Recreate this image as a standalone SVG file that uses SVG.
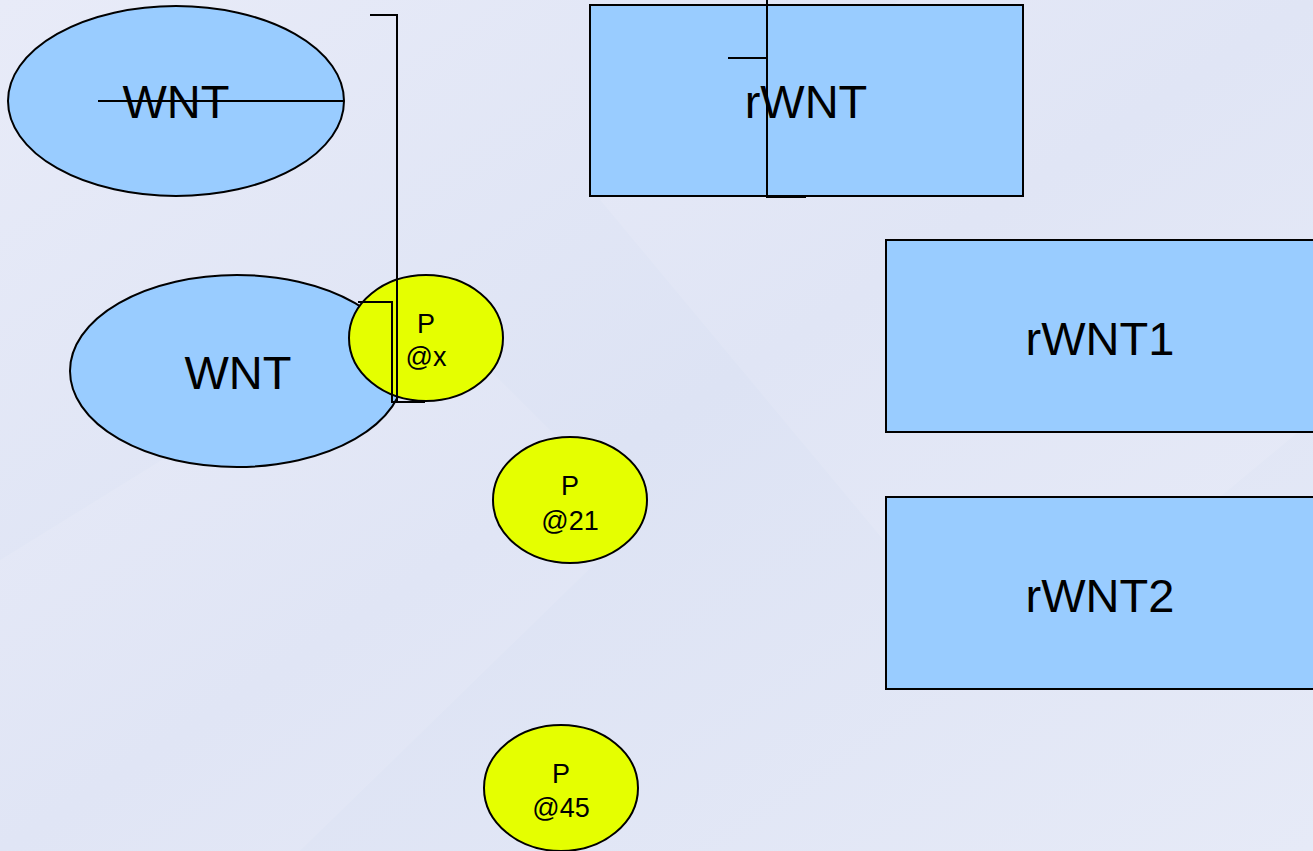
<svg xmlns="http://www.w3.org/2000/svg" width="1313" height="851" viewBox="0 0 1313 851">
<defs>
<linearGradient id="bg" x1="0" y1="0" x2="1" y2="1">
<stop offset="0" stop-color="#e8ebf8"/>
<stop offset="0.5" stop-color="#dde3f4"/>
<stop offset="1" stop-color="#e6eaf7"/>
</linearGradient>
<style>
.blue{fill:#99ccff;stroke:#000;stroke-width:2}
.yel{fill:#e5ff00;stroke:#000;stroke-width:2}
.big{font-family:"Liberation Sans",Arial,sans-serif;font-size:47px;fill:#000;text-anchor:middle}
.small{font-family:"Liberation Sans",Arial,sans-serif;font-size:27px;fill:#000;text-anchor:middle}
.conn{fill:none;stroke:#000;stroke-width:2}
</style>
</defs>
<rect width="1313" height="851" fill="url(#bg)"/>
<polygon points="0,560 420,300 640,520 300,851 0,851" fill="#ffffff" opacity="0.1"/>
<polygon points="600,200 1000,680 1313,420 1313,0 900,0" fill="#ffffff" opacity="0.1"/>
<g id="wnt-top">
<ellipse class="blue" cx="176" cy="101" rx="168" ry="95"/>
<text class="big" x="176" y="118">WNT</text>
</g>
<g id="rwnt">
<rect class="blue" x="590" y="5" width="433" height="191"/>
<text class="big" x="806" y="118">rWNT</text>
</g>
<g id="wnt">
<ellipse class="blue" cx="237" cy="371" rx="167" ry="96"/>
<text class="big" x="238" y="389">WNT</text>
</g>
<g id="rwnt1">
<rect class="blue" x="886" y="240" width="440" height="192"/>
<text class="big" x="1100" y="355">rWNT1</text>
</g>
<g id="rwnt2">
<rect class="blue" x="886" y="497" width="440" height="192"/>
<text class="big" x="1100" y="612">rWNT2</text>
</g>
<g id="p-x">
<ellipse class="yel" cx="426" cy="338" rx="77" ry="63"/>
<text class="small" x="426" y="333">P</text>
<text class="small" x="426" y="366">@x</text>
</g>
<g id="p-21">
<ellipse class="yel" cx="570" cy="500" rx="77" ry="63"/>
<text class="small" x="570" y="495">P</text>
<text class="small" x="570" y="530">@21</text>
</g>
<g id="p-45">
<ellipse class="yel" cx="561" cy="788" rx="77" ry="63"/>
<text class="small" x="561" y="783">P</text>
<text class="small" x="561" y="817">@45</text>
</g>
<g id="connectors">
<line class="conn" x1="98" y1="101" x2="344" y2="101"/>
<polyline class="conn" points="370,15 397,15 397,401"/>
<polyline class="conn" points="358,302 392,302 392,402 425,402"/>
<polyline class="conn" points="767,0 767,197 806,197"/>
<line class="conn" x1="728" y1="58" x2="767" y2="58"/>
</g>
</svg>
